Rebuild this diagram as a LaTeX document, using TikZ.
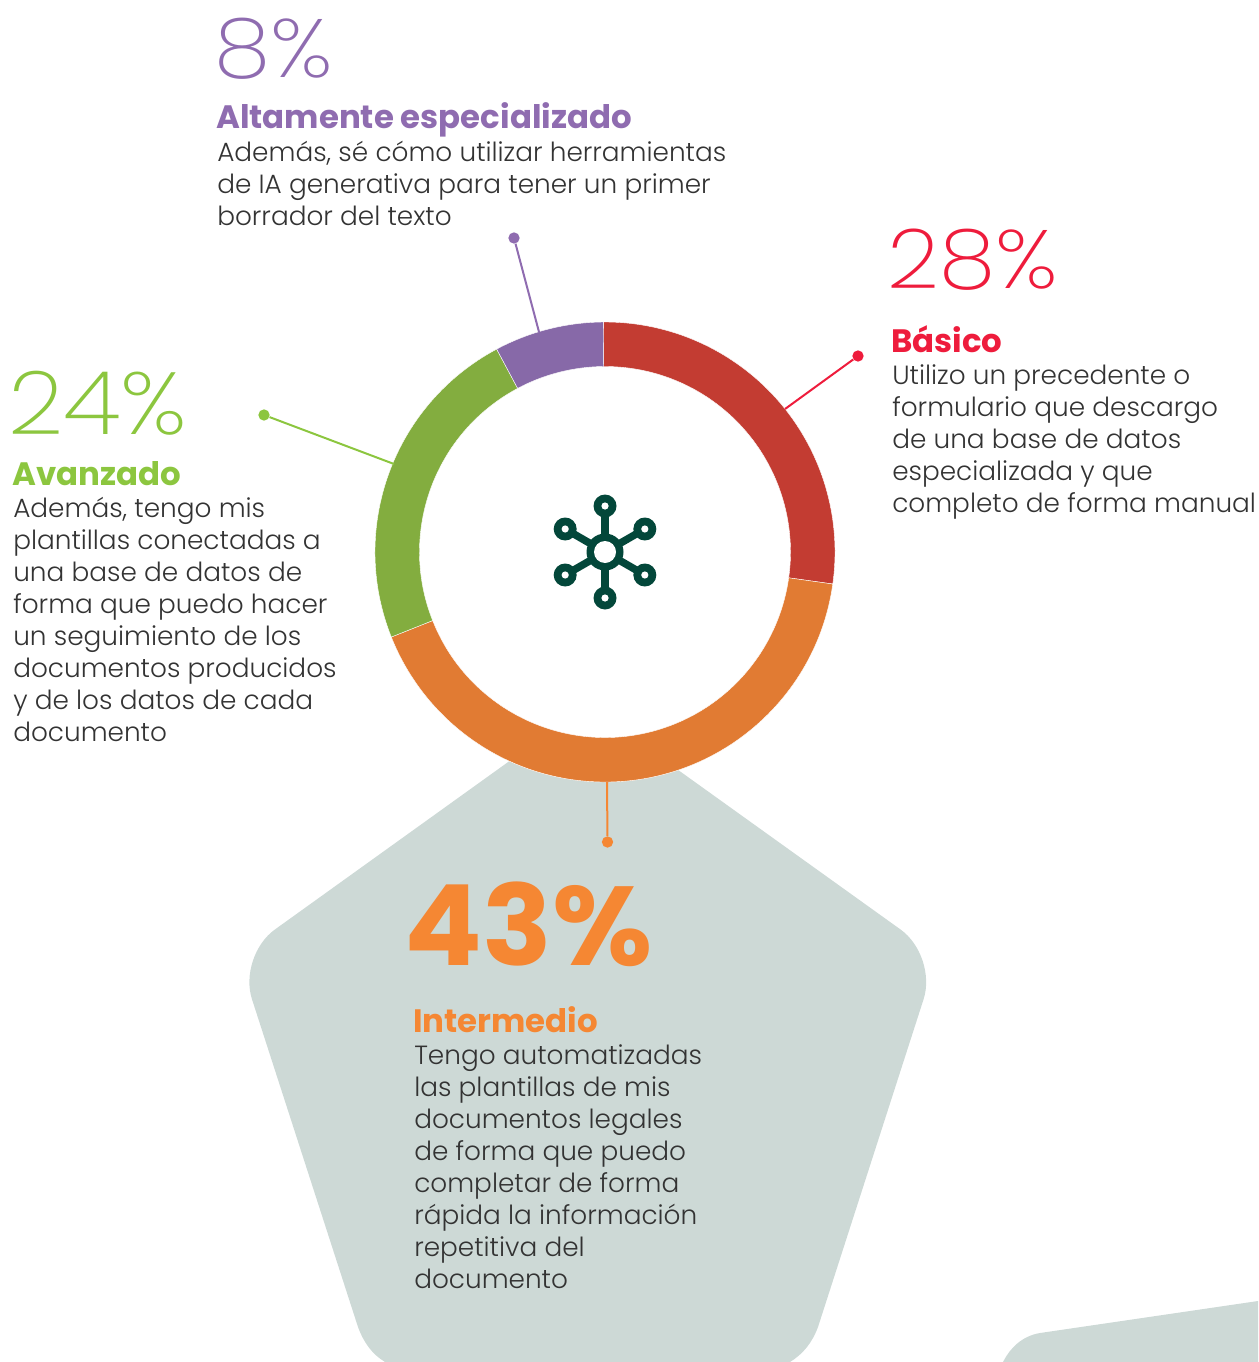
\documentclass[tikz,border=0pt]{standalone}
\usepackage{fontspec}
\setmainfont{Poppins}[UprightFont=* Light,BoldFont=* Bold]
\newfontfamily\thinfont{Poppins}[UprightFont=* ExtraLight,FakeStretch=1.1]
\newfontfamily\heavyfont{Poppins}[UprightFont=* Bold,FakeStretch=1.03]
\definecolor{cRedSeg}{HTML}{C33C32}
\definecolor{cOrgSeg}{HTML}{E17B33}
\definecolor{cGrnSeg}{HTML}{83AD3F}
\definecolor{cPurSeg}{HTML}{8769A8}
\definecolor{cRed}{HTML}{EE1C3C}
\definecolor{cOrg}{HTML}{F58733}
\definecolor{cGrn}{HTML}{8CC63F}
\definecolor{cPur}{HTML}{8F6CB0}
\definecolor{cPale}{HTML}{CDD9D6}
\definecolor{cDark}{HTML}{03473A}
\definecolor{cBody}{HTML}{333333}
\tikzset{
  body/.style={anchor=north west,inner sep=0pt,align=left,text=cBody,font=\fontsize{19.75}{24}\selectfont},
  head/.style={anchor=base west,inner sep=0pt,font=\fontsize{24.3}{28}\selectfont\bfseries},
  bignum/.style={anchor=base west,inner sep=0pt,font=\fontsize{62}{70}\thinfont},
  dot/.style={circle,inner sep=0pt,minimum size=8.5pt},
  seg/.style={draw=white,line width=0.3pt},
  leader/.style={line width=1.5pt},
}
\newcommand{\ringseg}[3]{\fill[#1,seg] (#2:230) arc[start angle=#2,end angle=#3,radius=230] -- (#3:185.5) arc[start angle=#3,end angle=#2,radius=185.5] -- cycle;}
\begin{document}
\begin{tikzpicture}[x=0.75pt,y=-0.75pt]
\useasboundingbox (0,0) rectangle (1258,1362);
% background shapes
\fill[cPale] (358,1327) [rounded corners=34pt] -- (238,956) -- (587.5,705) -- (937.5,956) [sharp corners] -- (818,1327) .. controls (812,1343) and (803,1354) .. (790,1362) -- (385,1362) .. controls (372,1354) and (364,1343) .. (358,1327) -- cycle;
\fill[cPale] (1258,1301) -- (1040,1333) .. controls (1022,1336) and (1010,1348) .. (1003,1362) -- (1258,1362) -- cycle;
% donut
\begin{scope}[shift={(605,552)}]
\fill[white] (0,0) circle[radius=230];
\ringseg{cRedSeg}{-90.4}{8}
\ringseg{cOrgSeg}{8}{158.3}
\ringseg{cGrnSeg}{158.3}{241.9}
\ringseg{cPurSeg}{241.9}{269.6}
% icon
\foreach \a in {-90,-30,30,90,150,210}{
  \draw[cDark,line width=5.6pt] (0,0) -- (\a:46);
  \fill[cDark] (\a:46) circle[radius=11.5];
}
\foreach \a in {-90,-30,30,90,150,210}{\fill[white] (\a:46) circle[radius=3.6];}
\fill[cDark] (0,0) circle[radius=18.5];
\fill[white] (0,0) circle[radius=11];
\end{scope}
% anchors of the leaders on the ring
\coordinate (pRing) at (539,332);
\coordinate (rRing) at (785,409);
\coordinate (gRing) at (394,464);
\coordinate (oRing) at (607,782);
% dots and leaders
\node[dot,fill=cPur] (pDot) at (514,238) {};
\node[dot,fill=cRed] (rDot) at (858,356) {};
\node[dot,fill=cGrn] (gDot) at (264,415) {};
\node[dot,fill=cOrg] (oDot) at (607.5,842) {};
\draw[leader,cPur] (pDot) -- (pRing);
\draw[leader,cRed] (rDot) -- (rRing);
\draw[leader,cGrn] (gDot) -- (gRing);
\draw[leader,cOrg] (oDot) -- (oRing);
% purple
\node[bignum,text=cPur] (pNum) at (214,78) {8\%};
\node[head,text=cPur] (pHead) at (216,129) {Altamente especializado};
\node[body] (pBody) at (217,140.7) {Además, sé cómo utilizar herramientas\\de IA generativa para tener un primer\\borrador del texto};
% red
\node[bignum,text=cRed] (rNum) at (887,289) {28\%};
\node[head,text=cRed] (rHead) at (891,352) {Básico};
\node[body] (rBody) at (892,364.5) {Utilizo un precedente o\\formulario que descargo\\de una base de datos\\especializada y que\\completo de forma manual};
% green
\node[anchor=base west,inner sep=0pt,font=\fontsize{66}{70}\thinfont,text=cGrn] (gNum) at (8,434) {24\%};
\node[head,text=cGrn] (gHead) at (12,485) {Avanzado};
\node[body] (gBody) at (13,496.7) {Además, tengo mis\\plantillas conectadas a\\una base de datos de\\forma que puedo hacer\\un seguimiento de los\\documentos producidos\\y de los datos de cada\\documento};
% orange
\node[anchor=base west,inner sep=0pt,text=cOrg,font=\fontsize{84}{90}\heavyfont] (oNum) at (404,965) {43\%};
\node[head,text=cOrg] (oHead) at (413,1032) {Intermedio};
\node[body] (oBody) at (414,1044.5) {Tengo automatizadas\\las plantillas de mis\\documentos legales\\de forma que puedo\\completar de forma\\rápida la información\\repetitiva del\\documento};
\end{tikzpicture}
\end{document}
